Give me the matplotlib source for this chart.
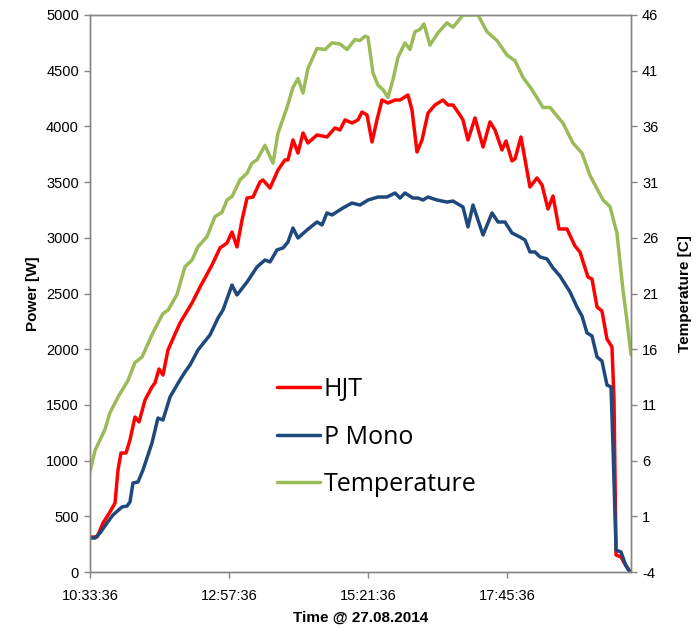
import matplotlib
matplotlib.use('Agg')
import matplotlib.pyplot as plt

# Minutes after 10:33:36 and readings
hjt_min = [0, 7.3, 13.5, 20.7, 25.9, 29, 32.1, 37.3, 41.4, 46.6, 50.8, 57, 64.2, 67.3, 71.5,
           75.6, 80.8, 93.2, 105.7, 114, 126.4, 134.7, 141.9, 147.1, 152.3, 157.5, 162.7, 168.9,
           176.1, 179.2, 186.5, 194.8, 202, 205.1, 210.3, 215.5, 220.7, 225.8, 235.2, 245.5,
           253.8, 259, 264.2, 271.4, 277.6, 281.8, 287, 292.2, 297.3, 302.5, 308.7, 316, 321.2,
           329.4, 333.6, 338.8, 344, 350.2, 357.4, 365.7, 370.9, 376.1, 383.3, 386.4, 391.6,
           398.9, 407.2, 414.4, 419.6, 426.8, 431, 437.2, 440.3, 446.5, 455.8, 463.1, 468.3,
           474.5, 479.7, 485.9, 494.2, 502.4, 507.6, 515.9, 520.1, 525.3, 530.4, 535.6, 540.8,
           542.9, 545, 550.1, 554.2, 560]
hjt_w = [314, 314, 440, 539, 619, 916, 1068, 1068, 1185, 1391, 1347, 1544, 1661, 1697, 1822,
         1768, 1993, 2235, 2415, 2558, 2756, 2909, 2953, 3052, 2918, 3160, 3357, 3366,
         3501, 3519, 3447, 3609, 3699, 3699, 3878, 3761, 3941, 3851, 3923, 3905,
         3986, 3968, 4058, 4031, 4058, 4129, 4102, 3860, 4058, 4237, 4210, 4237, 4237,
         4282, 4147, 3770, 3878, 4120, 4192, 4237, 4192, 4192, 4102, 4058, 3878,
         4076, 3815, 4040, 3968, 3788, 3869, 3690, 3708, 3905, 3456, 3537, 3474,
         3259, 3375, 3079, 3079, 2927, 2873, 2648, 2630, 2379, 2343, 2092, 2020,
         1544, 153, 135, 72, 0]

mono_min = [0, 5.2, 10.4, 17.6, 23.8, 33.2, 38.3, 41.4, 44.5, 49.7, 54.9, 64.2, 70.4, 75.6,
            82.9, 93.2, 98.4, 103.6, 111.9, 124.3, 132.6, 137.8, 147.1, 152.3, 162.7, 173,
            181.3, 186.5, 193.7, 200, 205.1, 210.3, 215.5, 224.8, 235.2, 240.4, 245.5, 250.7,
            262.1, 271.4, 279.7, 288, 298.4, 307.7, 316, 321.2, 326.3, 334.6, 339.8, 345,
            350.2, 359.5, 369.8, 376.1, 381.2, 386.4, 391.6, 396.8, 407.2, 416.5, 422.7,
            429.9, 437.2, 445.5, 450.7, 455.8, 461, 466.2, 473.5, 479.7, 486.9, 497.3, 504.5,
            509.7, 514.9, 520.1, 525.3, 530.4, 535.6, 539.8, 541.8, 545, 550.1, 555.3, 559.4]
mono_w = [305, 305, 350, 440, 512, 584, 592, 628, 799, 808, 916, 1158, 1382, 1364,
          1571, 1724, 1795, 1858, 1993, 2128, 2280, 2352, 2576, 2487, 2603, 2738,
          2801, 2783, 2891, 2909, 2962, 3088, 2998, 3070, 3142, 3115, 3223, 3205,
          3268, 3312, 3294, 3339, 3366, 3366, 3402, 3357, 3402, 3357, 3357, 3339,
          3366, 3339, 3321, 3330, 3303, 3277, 3097, 3294, 3025, 3223, 3142,
          3142, 3043, 3007, 2980, 2873, 2873, 2828, 2810, 2729, 2657, 2514, 2379,
          2298, 2146, 2119, 1930, 1894, 1679, 1661, 1140, 197, 180, 54, 0]

temp_min = [0, 5.2, 15.5, 20.7, 29, 39.4, 46.6, 53.9, 65.3, 75.6, 80.8, 90.1, 98.4, 105.7,
            111.9, 121.2, 129.5, 136.8, 141.9, 147.1, 155.4, 162.7, 167.8, 173, 181.3, 189.6,
            194.8, 204.1, 210.3, 215.5, 220.7, 225.8, 235.2, 243.5, 250.7, 259, 266.3, 274.5,
            279.7, 284.9, 288, 293.2, 298.4, 303.5, 308.7, 313.9, 319.1, 326.3, 331.5, 336.7,
            341.9, 346, 352.2, 360.5, 369.8, 376.1, 386.4, 393.7, 402, 411.3, 421.7, 432,
            440.3, 448.6, 457.9, 469.3, 476.6, 490, 500.4, 509.7, 518, 531.5, 538.7, 546,
            552.2, 556.3, 560.5]
temp_c = [5.0, 6.9, 8.8, 10.3, 11.7, 13.2, 14.8, 15.3, 17.5, 19.2, 19.5, 20.9, 23.4, 24.0,
          25.2, 26.1, 27.9, 28.3, 29.4, 29.7, 31.2, 31.8, 32.7, 33.0, 34.3, 32.7,
          35.4, 37.7, 39.5, 40.3, 39.0, 41.2, 43.0, 42.9, 43.5, 43.4, 42.9, 43.8,
          43.7, 44.1, 44.0, 40.8, 39.7, 39.3, 38.6, 40.2, 42.2, 43.5, 42.9, 44.5,
          44.7, 45.2, 43.3, 44.4, 45.3, 44.9, 46.0, 46.0, 46.0, 44.5, 43.7, 42.4,
          41.9, 40.4, 39.3, 37.7, 37.7, 36.3, 34.5, 33.6, 31.6, 29.4, 28.8, 26.4,
          21.3, 18.6, 15.5]

x_ticks = [0, 144, 288, 432]
x_labels = ['10:33:36', '12:57:36', '15:21:36', '17:45:36']
power_ticks = list(range(0, 5001, 500))
temp_ticks = list(range(-4, 47, 5))

tick_font = 'Liberation Sans'
grey = '#868686'

fig = plt.figure(figsize=(6.99, 6.28), dpi=100)
ax = fig.add_axes([90 / 699, 1 - 572 / 628, 541 / 699, 557 / 628])
ax2 = ax.twinx()

style = dict(lw=2.5, solid_joinstyle='round', solid_capstyle='round')
l1, = ax.plot(hjt_min, hjt_w, color='#ff0000', label='HJT', **style)
l2, = ax.plot(mono_min, mono_w, color='#1f497d', label='P Mono', **style)
l3, = ax2.plot(temp_min, temp_c, color='#9bbb59', label='Temperature', **style)

ax.set_xlim(0, 560.5)
ax.set_ylim(0, 5000)
ax2.set_ylim(-4, 46)

ax.set_xticks(x_ticks)
ax.set_xticklabels(x_labels, fontfamily=tick_font, fontsize=10.5)
ax.set_yticks(power_ticks)
ax.set_yticklabels([str(v) for v in power_ticks], fontfamily=tick_font, fontsize=10.5)
ax2.set_yticks(temp_ticks)
ax2.set_yticklabels([str(v) for v in temp_ticks], fontfamily=tick_font, fontsize=10.5)

for a in (ax, ax2):
    for s in a.spines.values():
        s.set_color(grey)
        s.set_linewidth(1.0)
    a.tick_params(direction='out', length=4, width=1, color=grey, pad=4)
ax.tick_params(axis='x', pad=8)

ax.set_ylabel('Power [W]', fontfamily=tick_font, fontsize=11, fontweight='bold', labelpad=4)
ax2.set_ylabel('Temperature [C]', fontfamily=tick_font, fontsize=11, fontweight='bold',
               labelpad=14)
ax.set_xlabel('Time @ 27.08.2014', fontfamily=tick_font, fontsize=11, fontweight='bold',
              labelpad=6)

ax.legend(handles=[l1, l2, l3], loc='upper left', bbox_to_anchor=(0.327, 0.368),
          frameon=False, prop={'family': 'Open Sans', 'size': 18},
          handlelength=1.72, handletextpad=0.16, labelspacing=0.9, borderaxespad=0)

fig.savefig('out.png', dpi=100)
